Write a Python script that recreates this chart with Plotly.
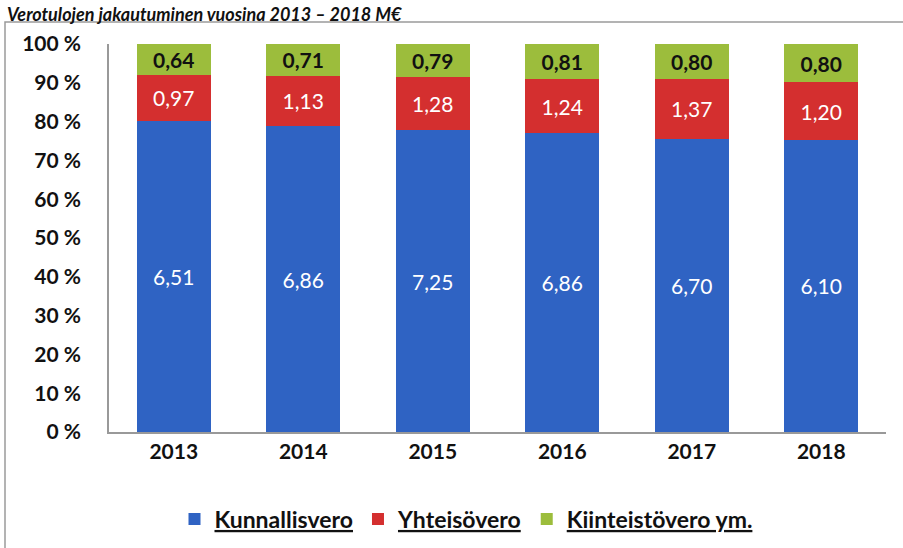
import plotly.graph_objects as go

years = ["2013", "2014", "2015", "2016", "2017", "2018"]
kunnallisvero = [6.51, 6.86, 7.25, 6.86, 6.70, 6.10]
yhteisovero = [0.97, 1.13, 1.28, 1.24, 1.37, 1.20]
kiinteistovero = [0.64, 0.71, 0.79, 0.81, 0.80, 0.80]
series_names = ["Kunnallisvero", "Yhteisövero", "Kiinteistövero ym."]
y_tick_vals = [0, 10, 20, 30, 40, 50, 60, 70, 80, 90, 100]
y_tick_text = [f"{v} %" for v in y_tick_vals]
title_text = "Verotulojen jakautuminen vuosina 2013 – 2018 M€"

def fmt(v):
    return f"{v:.2f}".replace(".", ",")

FONT = "Lato"
colors = ["#2F63C3", "#D42F2F", "#9CBD3C"]
text_fonts = [
    dict(family=FONT, size=21, color="white"),
    dict(family=FONT, size=21, color="white"),
    dict(family=FONT, size=21, color="#111111", weight="bold"),
]

W, H = 903, 548
L, R, T, B = 109, 17, 44, 116
pw, ph = W - L - R, H - T - B

def px_x(p):
    return (p - L) / pw

def px_y(p):
    return (H - B - p) / ph

fig = go.Figure()
for name, vals, col, tf in zip(series_names, [kunnallisvero, yhteisovero, kiinteistovero], colors, text_fonts):
    fig.add_trace(go.Bar(
        x=years, y=vals, name=f"<u>{name}</u>",
        marker=dict(color=col, line=dict(width=0)),
        text=[fmt(v) for v in vals], textposition="inside",
        insidetextanchor="middle", textfont=tf, textangle=0,
        constraintext="none",
    ))

fig.update_layout(
    barmode="stack", barnorm="percent", bargap=0.43,
    width=W, height=H,
    margin=dict(l=L, r=R, t=T, b=B, autoexpand=False),
    paper_bgcolor="white", plot_bgcolor="white",
    font=dict(family=FONT, color="#111111"),
    showlegend=True,
    legend=dict(orientation="h", x=px_x(466), xanchor="center", y=px_y(519), yanchor="middle",
                font=dict(family=FONT, size=23, color="#111111", weight="bold"),
                itemwidth=30, traceorder="normal"),
    xaxis=dict(showline=True, linecolor="#999999", linewidth=1.5, ticks="", automargin=False,
               tickfont=dict(family=FONT, size=21, weight="bold", color="#111111")),
    yaxis=dict(range=[0, 100], tickmode="array", tickvals=y_tick_vals, ticktext=y_tick_text,
               showgrid=False, zeroline=False, showline=True, linecolor="#999999", linewidth=1.5,
               automargin=False,
               tickfont=dict(family=FONT, size=21, weight="bold", color="#111111"),
               ticklabelstandoff=22),
)

fig.add_shape(type="rect", xref="paper", yref="paper", x0=px_x(5), x1=1.5, y0=-0.5, y1=px_y(22),
              line=dict(color="#9A9A9A", width=1.5), fillcolor="rgba(0,0,0,0)", layer="below")

fig.add_annotation(text=f"<b><i>{title_text}</i></b>", xref="paper", yref="paper",
                   x=px_x(5), y=px_y(1), xanchor="left", yanchor="top", showarrow=False,
                   font=dict(family=FONT, size=18, color="#111111", weight="bold"))

fig.write_html("out.html", config={"displayModeBar": False},
               post_script="document.body.style.margin='0';")
